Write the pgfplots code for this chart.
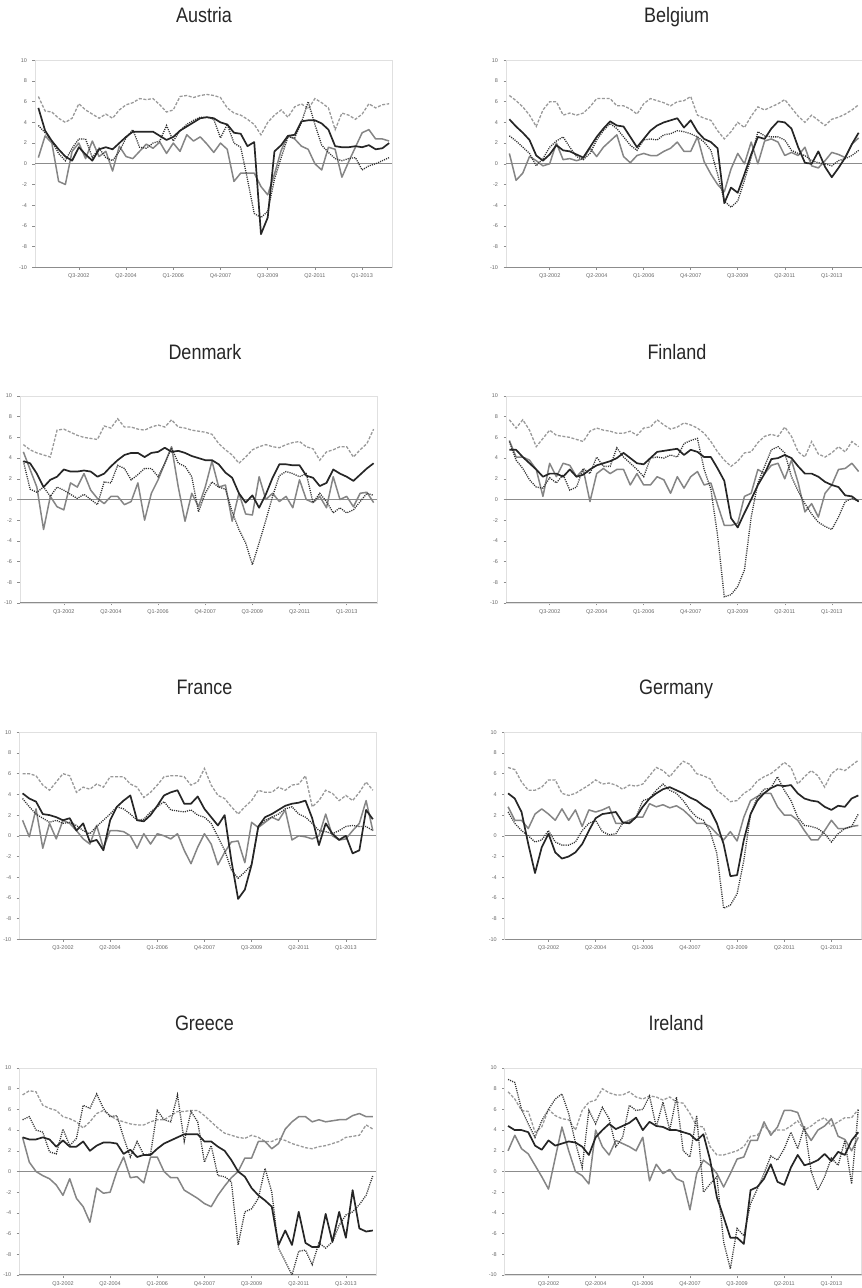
\documentclass[border=0pt]{standalone}
\usepackage{fontspec}
\setmainfont{Liberation Sans}
\newfontfamily\titlefont[FakeStretch=0.86]{Liberation Sans}
\usepackage{pgfplots}
\pgfplotsset{compat=1.18}
\pgfplotsset{
  panel/.style={
    scale only axis, width=357bp, height=207bp, anchor=south west,
    xmin=-0.5, xmax=52.5, ymin=-10, ymax=10,
    xtick={6,13,20,27,34,41,48},
    xticklabels={Q3-2002,Q2-2004,Q1-2006,Q4-2007,Q3-2009,Q2-2011,Q1-2013},
    ytick={-10,-8,-6,-4,-2,0,2,4,6,8,10},
    yticklabels={-10,-8,-6,-4,-2,0,2,4,6,8,10},
    axis line style={draw=black!12, line width=0.6bp},
    tick align=outside, major tick length=2.5bp,
    tick style={draw=black!45, line width=0.5bp},
    xtick pos=left, ytick pos=left,
    ticklabel style={font=\fontsize{5.5}{6}\selectfont, text=black!60},
    yticklabel style={xshift=-2bp},
    xticklabel style={yshift=-0.5bp},
  },
  blk/.style={line width=1.7bp, color=black!85, line join=round},
  gry/.style={line width=1.5bp, color=black!48, line join=round},
  dsh/.style={line width=1.3bp, color=black!40, dash pattern=on 3bp off 1.6bp},
  dot/.style={line width=1.3bp, color=black!80, dash pattern=on 1.1bp off 1.1bp},
}
\newcommand{\decor}{%
  \draw[black!45, line width=0.8bp] (axis cs:-0.5,0) -- (axis cs:52.5,0);
  \draw[black!45, line width=1.1bp] (rel axis cs:0,0) -- (rel axis cs:1,0);
}
\begin{document}
\begin{tikzpicture}
\path[use as bounding box] (0bp,0bp) rectangle (862bp,1288bp);

% ---------------- Austria
\begin{axis}[panel, at={(35bp,1020.7bp)}, width=357.5bp]
\decor
\addplot[dsh] table[x expr=\coordindex,y index=0,header=false,row sep=\\]{6.5\\5.1\\5.0\\4.4\\4.0\\4.4\\5.8\\5.2\\4.8\\4.4\\4.8\\4.4\\5.2\\5.7\\5.9\\6.3\\6.2\\6.3\\5.7\\5.0\\5.2\\6.5\\6.6\\6.4\\6.6\\6.7\\6.6\\6.4\\5.4\\4.9\\4.7\\4.3\\3.8\\2.8\\4.0\\4.7\\5.2\\4.5\\5.5\\5.8\\5.3\\6.3\\5.9\\5.4\\3.3\\4.9\\4.7\\4.3\\4.8\\5.8\\5.4\\5.7\\5.8\\};
\addplot[gry] table[x expr=\coordindex,y index=0,header=false,row sep=\\]{0.6\\2.7\\2.0\\-1.7\\-2.0\\1.2\\2.0\\0.5\\2.2\\0.7\\1.2\\-0.7\\1.7\\0.7\\0.5\\1.2\\1.9\\1.5\\2.1\\1.0\\2.0\\1.2\\2.8\\2.2\\2.6\\1.9\\1.1\\2.0\\1.4\\-1.7\\-0.9\\-0.9\\-0.9\\-2.2\\-3.0\\-1.0\\1.3\\2.7\\2.4\\1.7\\1.4\\0.0\\-0.6\\1.6\\1.4\\-1.3\\0.2\\1.6\\3.0\\3.3\\2.4\\2.4\\2.2\\};
\addplot[dot] table[x expr=\coordindex,y index=0,header=false,row sep=\\]{3.7\\3.0\\2.2\\1.0\\0.3\\1.5\\2.4\\2.4\\0.6\\1.5\\0.6\\0.3\\1.2\\2.5\\3.3\\1.6\\1.5\\2.0\\2.2\\3.7\\2.2\\3.2\\3.8\\4.2\\4.5\\4.5\\4.3\\2.5\\3.8\\2.0\\1.6\\-1.5\\-4.8\\-5.2\\-4.6\\-1.5\\0.6\\2.6\\2.5\\4.0\\6.0\\3.8\\1.8\\1.1\\0.5\\0.3\\0.5\\0.6\\-0.6\\-0.2\\0.0\\0.3\\0.6\\};
\addplot[blk] table[x expr=\coordindex,y index=0,header=false,row sep=\\]{5.4\\3.2\\2.2\\1.4\\0.7\\0.3\\1.6\\0.9\\0.3\\1.4\\1.6\\1.4\\2.0\\2.6\\3.1\\3.1\\3.1\\3.1\\2.7\\2.3\\2.6\\3.2\\3.6\\4.0\\4.4\\4.5\\4.4\\4.0\\3.8\\3.0\\2.9\\1.7\\2.1\\-6.8\\-5.2\\1.2\\1.8\\2.7\\2.8\\4.1\\4.2\\4.2\\3.9\\3.3\\1.7\\1.6\\1.6\\1.7\\1.6\\1.8\\1.4\\1.5\\2.0\\};
\end{axis}

% ---------------- Belgium
\begin{axis}[panel, at={(506bp,1020.7bp)}, width=356bp]
\decor
\addplot[dsh] table[x expr=\coordindex,y index=0,header=false,row sep=\\]{6.6\\6.1\\5.5\\4.7\\3.6\\5.2\\6.0\\6.0\\4.7\\4.9\\4.7\\4.9\\5.5\\6.3\\6.3\\6.3\\5.6\\5.6\\5.3\\4.8\\5.8\\6.3\\6.1\\5.9\\5.6\\6.0\\6.1\\6.5\\4.7\\4.4\\4.2\\3.2\\2.4\\3.1\\4.0\\3.5\\4.6\\5.5\\5.2\\5.5\\5.8\\6.2\\5.4\\4.6\\4.0\\4.7\\4.2\\3.7\\4.3\\4.5\\4.8\\5.2\\5.7\\};
\addplot[gry] table[x expr=\coordindex,y index=0,header=false,row sep=\\]{1.0\\-1.6\\-0.9\\0.7\\0.3\\-0.2\\0.0\\2.0\\0.4\\0.5\\0.3\\0.5\\1.5\\0.7\\1.6\\2.2\\2.8\\0.7\\0.1\\0.8\\1.0\\0.8\\0.8\\1.2\\1.5\\2.1\\1.2\\1.2\\2.6\\0.2\\-1.0\\-2.0\\-2.7\\-0.5\\1.0\\0.0\\2.1\\0.0\\2.2\\2.4\\2.1\\0.8\\1.1\\0.8\\1.6\\-0.2\\-0.4\\0.3\\1.1\\0.9\\0.6\\1.9\\2.5\\};
\addplot[dot] table[x expr=\coordindex,y index=0,header=false,row sep=\\]{2.7\\2.2\\1.6\\1.0\\-0.2\\0.5\\1.6\\2.2\\2.6\\1.6\\0.7\\0.4\\1.0\\2.3\\3.2\\3.9\\3.4\\2.6\\1.8\\1.3\\2.3\\2.4\\2.3\\2.8\\2.9\\3.2\\3.1\\2.9\\2.6\\2.1\\1.3\\-1.0\\-3.6\\-4.2\\-3.6\\-1.6\\0.6\\3.1\\2.7\\2.6\\2.6\\2.3\\1.3\\1.0\\0.8\\0.3\\0.1\\0.0\\-0.2\\0.3\\0.5\\0.8\\1.3\\};
\addplot[blk] table[x expr=\coordindex,y index=0,header=false,row sep=\\]{4.3\\3.6\\3.0\\2.3\\0.8\\0.3\\0.9\\1.8\\1.3\\1.2\\0.9\\0.6\\1.6\\2.6\\3.4\\4.1\\3.7\\3.6\\2.6\\1.6\\2.4\\3.2\\3.7\\4.0\\4.2\\4.4\\3.5\\4.2\\3.1\\2.4\\2.1\\1.5\\-3.8\\-2.3\\-2.8\\-1.0\\0.9\\2.6\\2.4\\3.4\\4.1\\4.0\\3.4\\1.6\\0.1\\0.0\\1.2\\-0.3\\-1.3\\-0.4\\0.6\\1.9\\3.0\\};
\end{axis}

% ---------------- Denmark
\begin{axis}[panel, at={(20bp,685bp)}]
\decor
\addplot[dsh] table[x expr=\coordindex,y index=0,header=false,row sep=\\]{5.3\\4.8\\4.5\\4.3\\4.1\\6.7\\6.8\\6.5\\6.2\\6.0\\5.9\\5.8\\7.1\\6.9\\7.8\\7.0\\7.0\\6.8\\6.7\\7.0\\7.2\\7.0\\7.7\\7.0\\6.9\\6.7\\6.6\\6.5\\6.3\\5.4\\4.8\\4.3\\3.5\\4.1\\4.8\\5.1\\5.3\\5.1\\5.0\\5.3\\5.5\\5.6\\5.1\\4.9\\3.8\\4.6\\4.8\\5.1\\5.1\\4.1\\4.8\\5.4\\6.8\\};
\addplot[gry] table[x expr=\coordindex,y index=0,header=false,row sep=\\]{4.6\\2.9\\1.2\\-2.9\\0.3\\-0.7\\-1.0\\1.6\\1.2\\2.5\\0.9\\0.1\\-0.4\\0.3\\0.3\\-0.5\\-0.2\\1.6\\-2.0\\0.6\\1.9\\3.5\\5.1\\1.2\\-2.1\\0.6\\-0.7\\1.2\\3.7\\1.2\\1.4\\-2.1\\0.6\\-1.4\\-1.5\\2.2\\0.0\\0.6\\-0.2\\0.3\\-0.8\\1.9\\0.0\\-0.3\\0.3\\-0.8\\2.2\\0.0\\0.3\\-0.7\\0.6\\0.7\\-0.3\\};
\addplot[dot] table[x expr=\coordindex,y index=0,header=false,row sep=\\]{3.7\\1.0\\0.7\\1.2\\0.3\\1.2\\0.9\\0.5\\0.1\\0.5\\0.0\\-0.5\\1.7\\1.6\\3.3\\3.0\\1.9\\2.4\\3.0\\3.0\\2.2\\3.5\\5.0\\3.5\\3.2\\2.2\\-1.2\\0.6\\1.7\\1.2\\1.0\\-1.2\\-2.9\\-4.2\\-6.3\\-4.2\\-2.0\\0.3\\2.3\\2.7\\2.5\\2.2\\2.5\\-0.3\\0.6\\-0.2\\-1.3\\-0.8\\-1.3\\-1.0\\-0.2\\0.6\\0.4\\};
\addplot[blk] table[x expr=\coordindex,y index=0,header=false,row sep=\\]{3.7\\3.5\\2.5\\1.2\\1.9\\2.2\\2.9\\2.7\\2.7\\2.8\\2.7\\2.2\\2.5\\3.2\\3.8\\4.3\\4.5\\4.5\\4.1\\4.5\\4.6\\5.0\\4.6\\4.7\\4.5\\4.2\\4.0\\3.8\\3.8\\3.4\\2.6\\2.1\\0.6\\-0.3\\0.4\\-0.8\\0.5\\2.1\\3.4\\3.4\\3.3\\3.3\\2.3\\2.1\\1.3\\1.6\\2.9\\2.5\\2.2\\1.8\\2.4\\3.0\\3.5\\};
\end{axis}

% ---------------- Finland
\begin{axis}[panel, at={(506bp,685bp)}, width=356bp]
\decor
\addplot[dsh] table[x expr=\coordindex,y index=0,header=false,row sep=\\]{7.7\\6.9\\7.7\\6.7\\5.1\\5.9\\6.7\\6.2\\6.1\\6.0\\5.8\\5.6\\6.6\\6.9\\6.7\\6.6\\6.4\\6.4\\6.6\\6.2\\6.9\\7.0\\7.7\\7.2\\6.8\\7.0\\7.4\\7.2\\6.9\\6.4\\5.6\\4.6\\3.8\\3.2\\3.7\\4.5\\4.6\\5.5\\6.1\\6.3\\6.1\\7.0\\6.1\\4.6\\4.1\\5.6\\4.4\\4.1\\4.5\\5.1\\4.6\\5.6\\5.1\\};
\addplot[gry] table[x expr=\coordindex,y index=0,header=false,row sep=\\]{5.7\\4.1\\4.1\\3.8\\2.9\\0.3\\3.5\\2.2\\3.5\\3.3\\2.2\\2.9\\-0.2\\2.5\\3.0\\2.5\\2.9\\2.9\\1.4\\2.5\\1.4\\1.4\\2.2\\1.9\\0.6\\2.2\\1.1\\2.2\\2.7\\1.4\\1.6\\-0.5\\-2.5\\-2.5\\-2.3\\0.3\\0.6\\2.9\\2.5\\3.3\\3.5\\2.0\\3.8\\1.6\\-1.2\\-0.4\\-1.7\\0.6\\1.4\\2.9\\3.0\\3.5\\2.7\\};
\addplot[dot] table[x expr=\coordindex,y index=0,header=false,row sep=\\]{5.6\\3.8\\3.0\\1.9\\1.2\\1.1\\2.1\\1.6\\2.4\\0.9\\1.2\\3.0\\2.5\\4.1\\3.2\\3.2\\5.0\\4.1\\3.5\\2.9\\2.2\\4.0\\4.1\\4.0\\4.3\\4.1\\5.4\\5.7\\5.9\\2.9\\1.0\\-3.5\\-9.4\\-9.2\\-8.4\\-6.8\\-1.7\\1.6\\3.2\\4.8\\5.1\\4.5\\2.2\\0.8\\-0.4\\-1.4\\-2.2\\-2.6\\-2.9\\-1.7\\-0.2\\0.1\\-0.2\\};
\addplot[blk] table[x expr=\coordindex,y index=0,header=false,row sep=\\]{4.8\\4.8\\4.1\\3.5\\2.9\\2.2\\2.5\\2.5\\2.2\\2.9\\2.2\\2.4\\2.9\\3.3\\3.5\\3.7\\4.0\\4.5\\4.0\\3.5\\3.4\\4.0\\4.6\\4.7\\4.8\\4.9\\4.3\\4.8\\4.6\\4.1\\4.1\\3.0\\1.8\\-1.8\\-2.7\\-1.3\\0.0\\1.4\\2.5\\3.9\\4.0\\4.3\\4.0\\3.2\\2.5\\2.5\\2.2\\1.7\\1.4\\1.2\\0.4\\0.3\\-0.2\\};
\end{axis}

% ---------------- France
\begin{axis}[panel, at={(19.2bp,348.7bp)}]
\decor
\addplot[dsh] table[x expr=\coordindex,y index=0,header=false,row sep=\\]{6.0\\6.0\\5.8\\4.9\\4.4\\5.2\\6.0\\5.8\\4.2\\4.7\\4.5\\5.0\\4.7\\5.7\\5.7\\5.7\\5.0\\4.7\\3.7\\4.2\\4.9\\5.7\\5.8\\5.8\\5.7\\4.9\\5.2\\6.5\\4.9\\3.9\\3.6\\2.8\\2.1\\2.8\\3.4\\4.4\\4.2\\4.2\\4.7\\4.4\\4.9\\5.0\\5.8\\2.8\\3.4\\4.4\\4.1\\3.4\\3.9\\3.4\\4.2\\5.2\\4.4\\};
\addplot[gry] table[x expr=\coordindex,y index=0,header=false,row sep=\\]{1.5\\-0.1\\2.6\\-1.2\\1.2\\-0.3\\1.5\\1.2\\0.5\\-0.3\\-0.8\\1.0\\-1.2\\0.5\\0.5\\0.4\\0.0\\-1.2\\0.2\\-0.8\\0.2\\0.0\\-0.3\\0.2\\-1.4\\-2.7\\-1.1\\0.2\\-0.8\\-2.8\\-1.6\\-0.6\\-0.5\\-2.6\\1.3\\0.8\\1.3\\1.8\\1.5\\2.5\\-0.4\\0.0\\-0.1\\-0.3\\0.0\\2.1\\0.0\\-0.4\\-0.3\\0.5\\1.2\\3.4\\0.5\\};
\addplot[dot] table[x expr=\coordindex,y index=0,header=false,row sep=\\]{3.6\\2.8\\2.1\\1.7\\1.3\\1.5\\1.2\\1.3\\1.0\\0.5\\0.2\\0.9\\1.5\\2.1\\2.8\\2.6\\2.1\\1.5\\1.6\\2.3\\2.8\\3.3\\2.5\\2.4\\2.3\\2.5\\2.0\\1.8\\1.2\\-0.1\\-1.4\\-3.3\\-4.1\\-3.5\\-2.8\\0.9\\1.5\\1.8\\2.1\\2.6\\2.8\\2.1\\1.8\\1.2\\0.5\\0.4\\0.2\\0.5\\0.9\\1.0\\0.9\\0.9\\0.5\\};
\addplot[blk] table[x expr=\coordindex,y index=0,header=false,row sep=\\]{4.1\\3.6\\3.3\\2.1\\2.0\\1.8\\1.5\\1.7\\0.5\\1.2\\-0.6\\-0.4\\-1.4\\1.5\\2.8\\3.4\\3.9\\1.5\\1.4\\2.0\\2.9\\3.9\\4.2\\4.4\\3.1\\3.1\\3.8\\2.6\\1.8\\1.0\\2.0\\-2.4\\-6.1\\-5.2\\-2.8\\0.9\\1.8\\2.1\\2.5\\2.9\\3.1\\3.2\\3.4\\1.7\\-0.9\\1.2\\0.2\\-0.4\\0.0\\-1.7\\-1.4\\2.5\\1.6\\};
\end{axis}

% ---------------- Germany
\begin{axis}[panel, at={(504.7bp,348.7bp)}]
\decor
\addplot[dsh] table[x expr=\coordindex,y index=0,header=false,row sep=\\]{6.6\\6.4\\5.2\\4.4\\4.4\\4.7\\5.4\\5.4\\4.1\\3.9\\4.1\\4.5\\4.9\\5.4\\5.0\\5.1\\4.9\\4.5\\4.9\\4.8\\5.0\\5.8\\6.6\\6.3\\5.7\\6.5\\7.2\\6.9\\6.0\\5.8\\5.5\\4.4\\3.9\\3.3\\3.4\\4.1\\4.5\\5.3\\5.7\\6.0\\6.5\\7.1\\6.6\\5.0\\5.7\\6.3\\5.8\\4.7\\6.0\\6.5\\6.3\\6.8\\7.3\\};
\addplot[gry] table[x expr=\coordindex,y index=0,header=false,row sep=\\]{2.8\\1.5\\1.5\\0.7\\2.1\\2.6\\2.1\\1.5\\2.6\\1.5\\2.5\\0.9\\2.5\\2.3\\2.5\\2.8\\1.2\\1.2\\1.5\\1.8\\1.8\\3.1\\2.8\\3.0\\2.7\\2.9\\2.5\\1.9\\1.2\\1.2\\0.9\\0.2\\-0.4\\0.4\\-0.5\\1.8\\3.4\\3.8\\4.1\\4.1\\2.8\\2.0\\2.0\\1.5\\0.5\\-0.4\\-0.4\\0.5\\1.5\\0.7\\0.7\\0.9\\1.0\\};
\addplot[dot] table[x expr=\coordindex,y index=0,header=false,row sep=\\]{2.3\\1.2\\0.5\\0.0\\-0.6\\-0.4\\0.5\\-0.6\\-0.9\\-0.9\\-0.6\\0.5\\1.2\\1.5\\0.4\\0.1\\0.2\\1.2\\1.3\\1.8\\3.4\\3.6\\4.4\\5.0\\4.4\\4.1\\3.4\\2.5\\1.8\\1.5\\0.4\\-1.7\\-7.0\\-6.7\\-5.6\\-2.4\\2.1\\3.7\\4.5\\4.6\\5.7\\4.4\\3.4\\1.8\\1.0\\0.9\\0.7\\0.2\\-0.6\\0.2\\0.7\\0.9\\2.1\\};
\addplot[blk] table[x expr=\coordindex,y index=0,header=false,row sep=\\]{4.1\\3.6\\2.3\\-0.8\\-3.6\\-1.1\\0.2\\-1.6\\-2.2\\-2.0\\-1.6\\-0.8\\0.5\\1.7\\2.1\\2.2\\2.3\\1.3\\1.2\\1.8\\2.8\\3.6\\4.1\\4.5\\4.7\\4.4\\4.1\\3.7\\3.4\\2.9\\2.5\\1.2\\-0.8\\-3.9\\-3.8\\-0.4\\2.1\\3.4\\4.1\\4.6\\4.9\\4.8\\4.9\\4.1\\3.6\\3.4\\3.3\\2.8\\2.5\\2.9\\2.8\\3.6\\3.9\\};
\end{axis}

% ---------------- Greece
\begin{axis}[panel, at={(19.2bp,13bp)}]
\decor
\addplot[dsh] table[x expr=\coordindex,y index=0,header=false,row sep=\\]{7.4\\7.8\\7.7\\6.4\\6.1\\5.9\\5.3\\5.1\\4.8\\4.2\\4.8\\5.6\\5.9\\5.4\\5.0\\4.8\\4.6\\4.5\\4.5\\4.8\\5.0\\5.0\\5.4\\5.8\\5.8\\5.9\\5.9\\5.4\\4.8\\4.2\\3.7\\3.5\\3.3\\3.2\\3.5\\3.3\\2.9\\2.9\\3.2\\3.0\\2.7\\2.5\\2.3\\2.2\\2.4\\2.5\\2.7\\2.9\\3.3\\3.4\\3.5\\4.5\\4.1\\};
\addplot[gry] table[x expr=\coordindex,y index=0,header=false,row sep=\\]{3.3\\0.9\\0.0\\-0.4\\-0.7\\-1.3\\-2.3\\-0.7\\-2.6\\-3.4\\-4.9\\-1.6\\-2.1\\-2.0\\0.0\\1.4\\-0.6\\-0.5\\-1.1\\1.4\\1.4\\0.0\\-0.6\\-0.6\\-1.8\\-2.2\\-2.6\\-3.1\\-3.4\\-2.3\\-1.4\\-0.6\\0.0\\1.3\\1.3\\2.9\\2.9\\2.2\\2.7\\4.1\\4.8\\5.3\\5.3\\4.8\\5.0\\4.8\\4.9\\5.0\\5.0\\5.4\\5.6\\5.3\\5.3\\};
\addplot[dot] table[x expr=\coordindex,y index=0,header=false,row sep=\\]{5.0\\5.3\\4.0\\3.8\\1.9\\1.7\\4.1\\2.5\\3.2\\6.4\\6.1\\7.5\\6.1\\5.3\\5.4\\3.3\\1.4\\2.9\\1.6\\1.7\\5.9\\5.0\\4.8\\7.4\\2.9\\5.8\\4.8\\0.9\\2.5\\-0.4\\-0.5\\-1.0\\-7.1\\-3.9\\-3.6\\-2.6\\0.3\\-2.0\\-7.4\\-8.7\\-10.0\\-7.7\\-7.6\\-9.0\\-6.9\\-7.4\\-6.8\\-5.2\\-4.2\\-3.9\\-3.2\\-2.3\\-0.4\\};
\addplot[blk] table[x expr=\coordindex,y index=0,header=false,row sep=\\]{3.3\\3.1\\3.1\\3.3\\3.1\\2.4\\3.0\\2.4\\2.4\\2.9\\2.0\\2.5\\2.8\\2.8\\2.7\\1.7\\2.1\\1.4\\1.6\\1.6\\2.2\\2.7\\3.0\\3.3\\3.6\\3.6\\3.6\\2.9\\2.9\\2.4\\2.0\\1.1\\0.0\\-0.5\\-1.6\\-2.3\\-2.8\\-3.4\\-7.1\\-5.7\\-7.1\\-3.9\\-6.9\\-7.3\\-7.3\\-4.1\\-6.8\\-3.9\\-6.4\\-1.8\\-5.5\\-5.8\\-5.7\\};
\end{axis}

% ---------------- Ireland
\begin{axis}[panel, at={(504.7bp,13bp)}]
\decor
\addplot[dsh] table[x expr=\coordindex,y index=0,header=false,row sep=\\]{7.7\\7.0\\5.9\\5.8\\3.8\\4.3\\6.0\\5.4\\5.1\\5.0\\4.0\\5.9\\6.7\\6.9\\8.0\\7.6\\7.4\\7.4\\7.7\\7.2\\7.0\\7.3\\7.2\\6.9\\7.2\\6.7\\6.6\\5.6\\4.4\\4.3\\2.4\\1.6\\1.6\\1.8\\2.0\\2.4\\3.4\\3.5\\4.4\\3.8\\4.0\\4.0\\4.4\\4.9\\4.0\\4.4\\4.9\\5.2\\4.4\\4.8\\5.2\\5.2\\6.0\\};
\addplot[gry] table[x expr=\coordindex,y index=0,header=false,row sep=\\]{2.0\\3.5\\2.2\\1.7\\0.6\\-0.5\\-1.7\\1.3\\4.3\\2.0\\0.0\\-0.4\\-1.2\\4.0\\2.4\\1.6\\3.0\\2.7\\2.4\\2.0\\3.3\\-0.9\\0.7\\-0.2\\0.2\\-0.7\\-1.0\\-3.7\\-0.2\\1.1\\0.6\\-0.2\\-1.5\\-0.2\\1.2\\1.4\\3.0\\3.0\\4.8\\3.5\\4.3\\5.9\\5.9\\5.7\\4.0\\3.0\\4.0\\4.4\\5.1\\3.4\\3.1\\2.0\\3.3\\};
\addplot[dot] table[x expr=\coordindex,y index=0,header=false,row sep=\\]{8.9\\8.6\\6.0\\4.6\\3.3\\4.9\\6.0\\7.0\\7.5\\5.6\\2.8\\0.4\\5.9\\4.6\\6.2\\5.1\\2.4\\3.3\\6.4\\5.9\\6.0\\7.3\\4.3\\6.7\\4.0\\7.2\\2.0\\1.4\\5.4\\-2.0\\-1.2\\-0.5\\-6.8\\-9.4\\-5.5\\-6.2\\-3.1\\-1.7\\-0.2\\1.5\\1.1\\2.2\\3.8\\2.2\\4.4\\0.0\\-1.8\\-0.5\\1.3\\0.6\\3.0\\-1.2\\6.0\\};
\addplot[blk] table[x expr=\coordindex,y index=0,header=false,row sep=\\]{4.4\\4.0\\4.0\\3.8\\2.5\\2.1\\3.0\\2.5\\2.7\\2.9\\2.8\\2.4\\1.6\\3.3\\4.0\\4.6\\4.1\\4.4\\4.7\\5.2\\4.0\\4.8\\4.4\\4.3\\4.0\\4.0\\3.8\\3.6\\3.0\\3.6\\1.1\\-2.5\\-4.4\\-6.4\\-6.4\\-7.0\\-1.8\\-1.5\\-0.7\\0.7\\-1.0\\-1.3\\0.4\\1.6\\0.6\\0.8\\1.1\\1.7\\1.0\\1.9\\1.6\\3.0\\3.8\\};
\end{axis}

% ---------------- titles
\begin{scope}[every node/.style={anchor=base, inner sep=0pt, text=black!85, font=\titlefont\fontsize{21}{24}\selectfont}]
\node at (204bp,1265bp) {Austria};
\node at (676.7bp,1265bp) {Belgium};
\node at (205bp,928.7bp) {Denmark};
\node at (677bp,928.7bp) {Finland};
\node at (204.5bp,593bp) {France};
\node at (676bp,593bp) {Germany};
\node at (204.5bp,257bp) {Greece};
\node at (676bp,257bp) {Ireland};
\end{scope}
\end{tikzpicture}
\end{document}
